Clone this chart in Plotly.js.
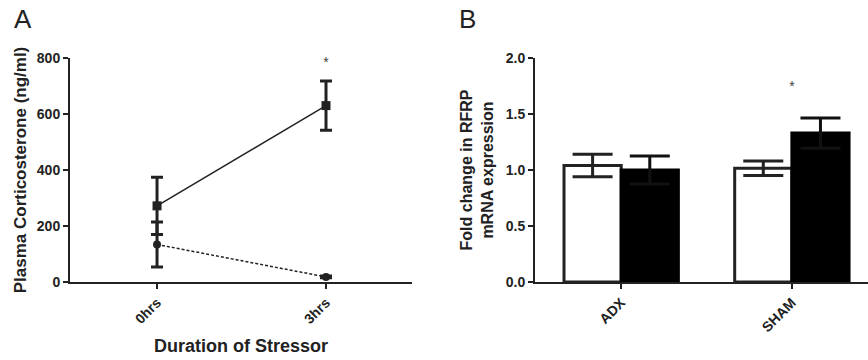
<!DOCTYPE html>
<html>
<head>
<meta charset="utf-8">
<script src="https://cdn.plot.ly/plotly-3.0.1.min.js"></script>
<style>html,body{margin:0;padding:0;background:#fff;}#chart{width:868px;height:360px;}</style>
</head>
<body>
<div id="chart"></div>
<script>
// Panel A data
const timeLabels = ['0hrs', '3hrs'];
const stressedMean = [272, 630];
const stressedSem = [102, 88];
const controlMean = [134, 18];
const controlSem = [80, 3];
const sigA = ['', '*'];
const sigAy = [null, 780];

// Panel B data
const groups = ['ADX', 'SHAM'];
const openMean = [1.04, 1.015];
const openSem = [0.10, 0.065];
const filledMean = [1.0, 1.33];
const filledSem = [0.125, 0.135];
const sigB = ['', '*'];
const sigBy = [null, 1.74];

const ink = '#222222';
const fam = 'Liberation Sans, Arial, sans-serif';
const tickFont = {family: fam, color: ink, size: 14, weight: 'bold'};

const traces = [
  {
    type: 'scatter', mode: 'lines+markers', x: timeLabels, y: stressedMean,
    xaxis: 'x', yaxis: 'y',
    line: {color: ink, width: 1.5},
    marker: {symbol: 'square', size: 9, color: ink},
    error_y: {type: 'data', array: stressedSem, visible: true, color: ink, thickness: 3, width: 6},
    showlegend: false, cliponaxis: false
  },
  {
    type: 'scatter', mode: 'lines+markers', x: timeLabels, y: controlMean,
    xaxis: 'x', yaxis: 'y',
    line: {color: ink, width: 1.5, dash: '3px,2px'},
    marker: {symbol: 'circle', size: 8, color: ink},
    error_y: {type: 'data', array: controlSem, visible: true, color: ink, thickness: 3, width: 6},
    showlegend: false, cliponaxis: false
  },
  {
    type: 'scatter', mode: 'text', x: timeLabels, y: sigAy, text: sigA,
    xaxis: 'x', yaxis: 'y', textfont: {family: fam, size: 14, color: '#444'},
    showlegend: false, hoverinfo: 'skip', cliponaxis: false
  },
  {
    type: 'bar', x: groups, y: openMean, xaxis: 'x2', yaxis: 'y2',
    marker: {color: '#ffffff', line: {color: ink, width: 3}},
    error_y: {type: 'data', array: openSem, visible: true, color: ink, thickness: 3, width: 20},
    showlegend: false
  },
  {
    type: 'bar', x: groups, y: filledMean, xaxis: 'x2', yaxis: 'y2',
    marker: {color: '#000000', line: {color: '#000', width: 3}},
    error_y: {type: 'data', array: filledSem, visible: true, color: '#111', thickness: 3, width: 20},
    showlegend: false
  },
  {
    type: 'scatter', mode: 'text', x: groups, y: sigBy, text: sigB,
    xaxis: 'x2', yaxis: 'y2', textfont: {family: fam, size: 14, color: '#444'},
    showlegend: false, hoverinfo: 'skip', cliponaxis: false
  }
];

const axisCommon = {
  showgrid: false, zeroline: false, showline: true, linecolor: ink, linewidth: 2,
  ticks: 'outside', ticklen: 5, tickwidth: 2, tickcolor: ink, tickfont: tickFont
};

const layout = {
  width: 868, height: 360,
  margin: {l: 70, r: 0, t: 58, b: 78},
  paper_bgcolor: '#ffffff', plot_bgcolor: '#ffffff',
  font: {family: fam, color: ink, size: 14},
  barmode: 'group', bargap: 0.33, bargroupgap: 0,
  xaxis: Object.assign({}, axisCommon, {
    domain: [0, 0.4286], type: 'category', range: [-0.515, 1.509], tickangle: -45,
    title: {text: 'Duration of Stressor', font: {family: fam, size: 18, color: ink, weight: 'bold'}, standoff: 14}
  }),
  yaxis: Object.assign({}, axisCommon, {
    domain: [0, 1], range: [0, 800], tickvals: [0, 200, 400, 600, 800],
    title: {text: 'Plasma Corticosterone (ng/ml)', font: {family: fam, size: 17, color: ink, weight: 'bold'}, standoff: 6}
  }),
  xaxis2: Object.assign({}, axisCommon, {
    domain: [0.5827, 1], type: 'category', range: [-0.505, 1.446], tickangle: -45, anchor: 'y2'
  }),
  yaxis2: Object.assign({}, axisCommon, {
    domain: [0, 1], range: [0, 2], tickvals: [0, 0.5, 1, 1.5, 2], ticktext: ['0.0', '0.5', '1.0', '1.5', '2.0'],
    anchor: 'x2',
    title: {text: 'Fold change in RFRP<br>mRNA expression', font: {family: fam, size: 16, color: ink, weight: 'bold'}, standoff: 8}
  }),
  annotations: [
    {text: 'A', xref: 'paper', yref: 'paper', x: -0.059, y: 1.175, xanchor: 'center', yanchor: 'middle', showarrow: false,
     font: {family: fam, size: 26, color: ink, weight: 'normal'}},
    {text: 'B', xref: 'paper', yref: 'paper', x: 0.4975, y: 1.175, xanchor: 'center', yanchor: 'middle', showarrow: false,
     font: {family: fam, size: 26, color: ink, weight: 'normal'}}
  ]
};

Plotly.newPlot('chart', traces, layout, {displayModeBar: false, staticPlot: true});
</script>
</body>
</html>
